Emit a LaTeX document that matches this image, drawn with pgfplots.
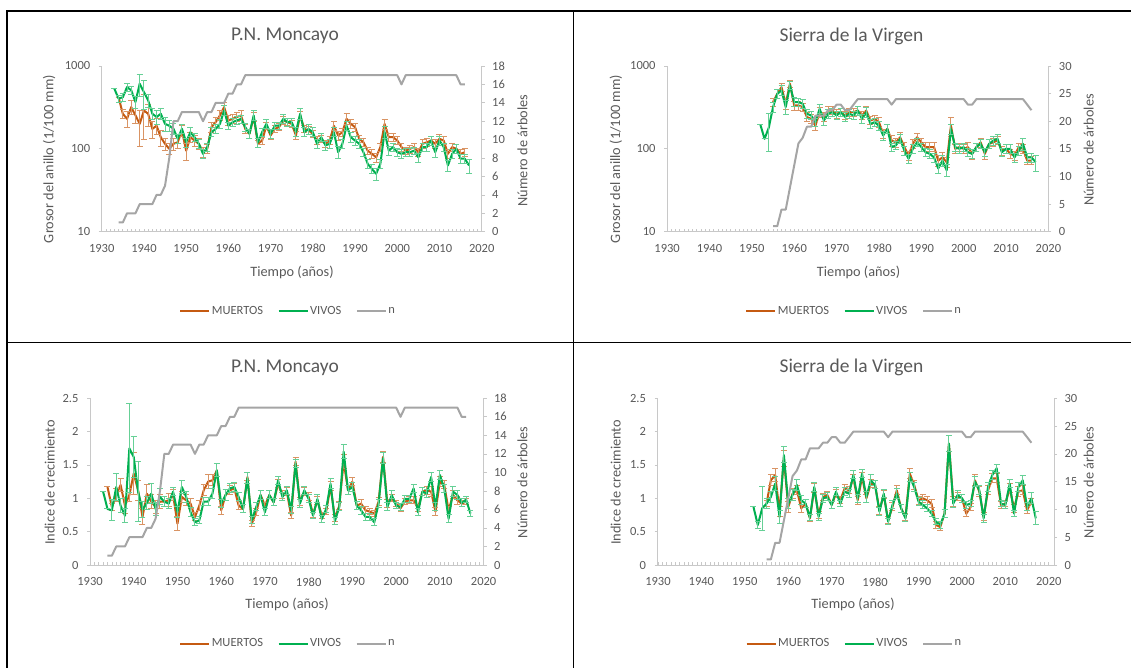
\documentclass[border=0pt]{standalone}
\usepackage{fontspec}
\setmainfont{Carlito}
\usepackage{pgfplots}
\usepackage{pgfplotstable}
\pgfplotsset{compat=1.18}
\definecolor{mort}{HTML}{C55A11}
\definecolor{vivo}{HTML}{00B050}
\definecolor{ngrey}{HTML}{A5A5A5}
\definecolor{axgrey}{HTML}{C8C8C8}
\definecolor{txt}{HTML}{595959}

% Panel 1: P.N. Moncayo, ring width
\pgfplotstableread{
x y e
1934 420 0
1935 265 30
1936 230 50
1937 319 60
1938 253 50
1939 200 92
1940 290 160
1941 265 80
1942 174 40
1943 190 40
1944 138 30
1945 115 20
1946 100 15
1947 115 20
1948 120 20
1949 167 25
1950 95 22
1951 138 20
1952 126 18
1953 115 18
1954 91 12
1955 100 12
1956 183 25
1957 210 30
1958 253 35
1959 319 40
1960 220 30
1961 230 30
1962 242 30
1963 253 35
1964 174 20
1965 152 20
1966 242 30
1967 115 10
1968 126 12
1969 190 20
1970 145 15
1971 174 18
1972 183 18
1973 220 25
1974 210 20
1975 200 20
1976 145 15
1977 253 30
1978 174 18
1979 167 18
1980 152 16
1981 126 14
1982 132 14
1983 115 12
1984 126 14
1985 190 25
1986 145 18
1987 159 18
1988 230 35
1989 200 25
1990 183 20
1991 132 14
1992 120 14
1993 95 10
1994 87 10
1995 79 10
1996 105 12
1997 200 28
1998 138 15
1999 138 15
2000 126 14
2001 105 12
2002 95 10
2003 100 11
2004 105 11
2005 91 10
2006 115 13
2007 120 14
2008 126 15
2009 115 13
2010 132 15
2011 126 14
2012 87 10
2013 105 12
2014 100 12
2015 87 10
2016 91 10
}\Mone
\pgfplotstableread{
x y e
1933 532 0
1934 403 40
1935 420 45
1936 557 60
1937 508 60
1938 367 60
1939 611 180
1940 484 186
1941 385 70
1942 265 40
1943 242 45
1944 265 40
1945 200 40
1946 190 30
1947 175 25
1948 132 15
1949 175 20
1950 120 15
1951 159 20
1952 138 15
1953 115 15
1954 87 10
1955 105 12
1956 159 20
1957 174 20
1958 200 25
1959 290 40
1960 190 20
1961 210 25
1962 220 25
1963 230 25
1964 183 20
1965 152 18
1966 253 35
1967 120 15
1968 159 18
1969 200 25
1970 152 18
1971 190 20
1972 190 20
1973 230 30
1974 210 25
1975 210 25
1976 159 20
1977 265 40
1978 159 20
1979 174 25
1980 159 20
1981 115 15
1982 138 15
1983 110 14
1984 115 15
1985 159 20
1986 91 15
1987 115 15
1988 190 25
1989 138 18
1990 126 16
1991 115 14
1992 91 10
1993 66 8
1994 57 7
1995 50 8
1996 66 8
1997 160 25
1998 95 12
1999 105 12
2000 91 10
2001 87 10
2002 91 10
2003 91 10
2004 95 10
2005 79 10
2006 105 12
2007 105 12
2008 126 15
2009 91 12
2010 126 15
2011 105 12
2012 63 10
2013 87 10
2014 100 12
2015 76 9
2016 76 9
2017 63 12
}\Vone
\pgfplotstableread{
x n
1934 1
1935 1
1936 2
1937 2
1938 2
1939 3
1940 3
1941 3
1942 3
1943 4
1944 4
1945 5
1946 8
1947 12
1948 12
1949 13
1950 13
1951 13
1952 13
1953 13
1954 12
1955 13
1956 13
1957 14
1958 14
1959 14
1960 15
1961 15
1962 16
1963 16
1964 17
1965 17
1970 17
1980 17
1990 17
2000 17
2001 16
2002 17
2010 17
2014 17
2015 16
2016 16
}\Nmon

% Panel 2: Sierra de la Virgen, ring width
\pgfplotstableread{
x y e
1955 367 40
1956 460 60
1957 557 60
1958 350 50
1959 611 60
1960 334 40
1961 334 40
1962 319 35
1963 242 30
1964 230 30
1965 190 25
1966 277 35
1967 242 30
1968 290 30
1969 290 30
1970 265 30
1971 277 30
1972 253 30
1973 277 30
1974 277 30
1975 290 35
1976 253 30
1977 290 35
1978 220 25
1979 230 25
1980 210 30
1981 152 20
1982 174 20
1983 126 18
1984 120 15
1985 138 18
1986 105 13
1987 83 10
1988 115 14
1989 138 16
1990 120 14
1991 105 13
1992 105 13
1993 105 13
1994 72 10
1995 79 12
1996 69 10
1997 190 50
1998 100 12
1999 105 12
2000 100 12
2001 105 13
2002 87 12
2003 105 12
2004 120 15
2005 87 12
2006 115 14
2007 120 14
2008 126 14
2009 95 12
2010 100 12
2011 87 10
2012 83 10
2013 105 12
2014 100 12
2015 72 8
2016 72 8
}\Mtwo
\pgfplotstableread{
x y e
1952 197 0
1953 132 0
1954 180 88
1955 319 45
1956 460 60
1957 508 70
1958 319 60
1959 584 70
1960 367 45
1961 367 40
1962 350 40
1963 265 35
1964 253 30
1965 210 25
1966 304 40
1967 220 30
1968 265 30
1969 277 30
1970 253 30
1971 277 30
1972 242 30
1973 265 30
1974 253 30
1975 290 35
1976 230 30
1977 277 35
1978 200 25
1979 210 25
1980 190 22
1981 145 18
1982 174 20
1983 105 12
1984 110 13
1985 132 15
1986 95 11
1987 76 9
1988 100 12
1989 120 14
1990 105 12
1991 91 11
1992 87 10
1993 79 10
1994 58 8
1995 72 10
1996 55 9
1997 174 25
1998 105 12
1999 100 12
2000 105 12
2001 91 11
2002 87 10
2003 105 12
2004 115 13
2005 91 11
2006 115 13
2007 126 15
2008 132 15
2009 91 11
2010 100 12
2011 100 12
2012 79 10
2013 95 11
2014 115 20
2015 79 10
2016 79 10
2017 69 15
}\Vtwo
\pgfplotstableread{
x n
1955 1
1956 1
1957 4
1958 4
1959 8
1960 12
1961 16
1962 17
1963 19
1964 19
1965 21
1966 21
1967 21
1968 22
1969 22
1970 23
1971 23
1972 22
1973 22
1974 23
1975 24
1982 24
1983 23
1984 24
2000 24
2001 23
2002 23
2003 24
2014 24
2015 23
2016 22
}\Nsie

% Panel 3: P.N. Moncayo, growth index
\pgfplotstableread{
x y e
1934 1.17 0
1935 0.87 0.05
1936 1.05 0.1
1937 1.20 0.1
1938 0.89 0.12
1939 1.05 0.1
1940 1.37 0.32
1941 1.12 0.15
1942 0.72 0.12
1943 1.07 0.14
1944 0.95 0.1
1945 0.87 0.1
1946 0.95 0.1
1947 0.95 0.08
1948 0.97 0.1
1949 1.05 0.08
1950 0.62 0.1
1951 1.02 0.08
1952 0.97 0.08
1953 0.92 0.07
1954 0.72 0.06
1955 0.89 0.07
1956 1.12 0.08
1957 1.25 0.1
1958 1.27 0.08
1959 1.42 0.1
1960 0.82 0.06
1961 1.05 0.08
1962 1.12 0.07
1963 1.15 0.07
1964 0.89 0.06
1965 0.84 0.06
1966 1.32 0.06
1967 0.62 0.04
1968 0.79 0.05
1969 1.05 0.07
1970 0.89 0.05
1971 1.05 0.06
1972 0.94 0.05
1973 1.22 0.06
1974 1.05 0.06
1975 1.10 0.06
1976 0.74 0.05
1977 1.55 0.06
1978 0.95 0.06
1979 1.10 0.06
1980 1.02 0.06
1981 0.76 0.05
1982 0.97 0.06
1983 0.74 0.05
1984 0.80 0.05
1985 1.18 0.07
1986 0.70 0.05
1987 0.89 0.06
1988 1.55 0.1
1989 1.12 0.07
1990 1.25 0.06
1991 0.89 0.06
1992 0.92 0.06
1993 0.82 0.05
1994 0.80 0.05
1995 0.77 0.05
1996 0.95 0.06
1997 1.62 0.08
1998 0.92 0.06
1999 1.00 0.05
2000 0.92 0.05
2001 0.85 0.05
2002 0.95 0.05
2003 0.97 0.05
2004 0.97 0.05
2005 0.85 0.05
2006 1.10 0.06
2007 1.12 0.06
2008 1.10 0.07
2009 0.80 0.06
2010 1.25 0.07
2011 1.20 0.06
2012 0.82 0.06
2013 1.05 0.06
2014 0.97 0.06
2015 0.92 0.05
2016 0.95 0.05
}\Mthree
\pgfplotstableread{
x y e
1933 1.10 0
1934 0.84 0
1935 0.82 0.16
1936 1.17 0.2
1937 0.89 0.1
1938 0.74 0.1
1939 1.75 0.67
1940 1.62 0.31
1941 1.10 0.45
1942 0.83 0.12
1943 0.93 0.1
1944 1.07 0.15
1945 0.84 0.1
1946 1.02 0.12
1947 0.95 0.08
1948 0.92 0.08
1949 1.10 0.06
1950 0.79 0.08
1951 1.17 0.1
1952 1.02 0.08
1953 0.79 0.07
1954 0.64 0.05
1955 0.67 0.05
1956 0.95 0.06
1957 0.95 0.06
1958 1.07 0.07
1959 1.42 0.1
1960 0.92 0.06
1961 1.05 0.08
1962 1.15 0.07
1963 1.17 0.07
1964 1.02 0.06
1965 0.84 0.06
1966 1.30 0.08
1967 0.67 0.05
1968 0.87 0.06
1969 1.05 0.07
1970 0.79 0.05
1971 1.05 0.06
1972 0.94 0.05
1973 1.27 0.06
1974 1.02 0.06
1975 1.12 0.06
1976 0.82 0.05
1977 1.52 0.06
1978 0.92 0.06
1979 1.12 0.06
1980 0.99 0.06
1981 0.74 0.05
1982 0.99 0.06
1983 0.69 0.05
1984 0.84 0.05
1985 1.22 0.07
1986 0.66 0.05
1987 0.87 0.06
1988 1.70 0.1
1989 1.12 0.07
1990 1.17 0.07
1991 0.89 0.06
1992 0.82 0.06
1993 0.72 0.05
1994 0.72 0.05
1995 0.64 0.05
1996 0.92 0.06
1997 1.60 0.08
1998 0.87 0.06
1999 1.05 0.06
2000 0.89 0.05
2001 0.87 0.05
2002 0.99 0.05
2003 0.99 0.05
2004 1.15 0.06
2005 0.79 0.05
2006 1.10 0.06
2007 1.07 0.06
2008 1.32 0.07
2009 0.87 0.06
2010 1.35 0.07
2011 1.15 0.06
2012 0.69 0.06
2013 1.10 0.07
2014 1.05 0.07
2015 0.93 0.06
2016 0.98 0.05
2017 0.77 0.05
}\Vthree

% Panel 4: Sierra de la Virgen, growth index
\pgfplotstableread{
x y e
1955 0.92 0.05
1956 1.27 0.08
1957 1.35 0.1
1958 0.80 0.08
1959 1.60 0.12
1960 0.87 0.08
1961 1.07 0.08
1962 1.12 0.07
1963 0.85 0.06
1964 0.92 0.06
1965 0.70 0.05
1966 1.15 0.07
1967 0.75 0.05
1968 1.02 0.05
1969 1.05 0.05
1970 0.90 0.05
1971 1.07 0.06
1972 0.97 0.05
1973 1.15 0.05
1974 1.12 0.05
1975 1.30 0.06
1976 0.97 0.06
1977 1.32 0.07
1978 1.00 0.06
1979 1.22 0.06
1980 1.20 0.06
1981 0.82 0.06
1982 1.05 0.06
1983 0.67 0.05
1984 0.87 0.06
1985 1.12 0.07
1986 0.85 0.06
1987 0.72 0.05
1988 1.37 0.08
1989 1.20 0.07
1990 0.97 0.06
1991 1.00 0.06
1992 0.97 0.06
1993 0.92 0.06
1994 0.60 0.05
1995 0.57 0.06
1996 0.77 0.06
1997 1.82 0.12
1998 0.95 0.08
1999 1.02 0.06
2000 1.00 0.06
2001 0.77 0.05
2002 0.87 0.05
2003 1.27 0.08
2004 1.10 0.07
2005 0.72 0.06
2006 1.12 0.07
2007 1.30 0.07
2008 1.30 0.07
2009 0.90 0.05
2010 0.92 0.05
2011 1.15 0.07
2012 0.85 0.06
2013 1.10 0.07
2014 1.12 0.07
2015 0.82 0.05
2016 0.95 0.05
}\Mfour
\pgfplotstableread{
x y e
1952 0.87 0
1953 0.60 0.05
1954 0.85 0.33
1955 0.92 0.08
1956 1.02 0.08
1957 1.22 0.1
1958 0.72 0.1
1959 1.65 0.12
1960 0.92 0.08
1961 1.05 0.08
1962 1.20 0.08
1963 0.97 0.07
1964 0.92 0.06
1965 0.71 0.05
1966 1.17 0.07
1967 0.72 0.05
1968 1.00 0.06
1969 1.02 0.06
1970 0.90 0.05
1971 1.10 0.06
1972 0.92 0.05
1973 1.10 0.06
1974 1.07 0.06
1975 1.35 0.06
1976 1.00 0.06
1977 1.37 0.06
1978 1.02 0.08
1979 1.27 0.08
1980 1.20 0.06
1981 0.80 0.06
1982 1.07 0.06
1983 0.65 0.05
1984 0.90 0.06
1985 1.07 0.07
1986 0.85 0.06
1987 0.70 0.05
1988 1.32 0.07
1989 1.17 0.07
1990 0.95 0.06
1991 0.90 0.06
1992 0.85 0.05
1993 0.77 0.05
1994 0.65 0.05
1995 0.60 0.05
1996 0.77 0.06
1997 1.82 0.12
1998 0.92 0.06
1999 1.05 0.06
2000 1.00 0.06
2001 0.90 0.05
2002 0.92 0.05
2003 1.25 0.07
2004 1.12 0.07
2005 0.70 0.06
2006 1.17 0.07
2007 1.35 0.07
2008 1.45 0.06
2009 0.92 0.05
2010 0.90 0.05
2011 1.22 0.06
2012 0.77 0.05
2013 1.17 0.07
2014 1.27 0.07
2015 0.87 0.06
2016 1.00 0.08
2017 0.70 0.1
}\Vfour

\newcommand{\labf}{\fontsize{14.3}{16}\selectfont}
\newcommand{\ttlf}{\fontsize{19.5}{22}\selectfont}
\newcommand{\tickf}{\fontsize{12.5}{14}\selectfont}

\pgfplotsset{
  base/.style={scale only axis, anchor=south west,
    tick align=inside, major tick length=3pt, minor tick length=2.5pt,
    tick style={draw=axgrey, line width=0.7pt},
    axis line style={draw=axgrey, line width=0.9pt},
    tick label style={font=\tickf, text=txt},
    /pgf/number format/assume math mode=true,
    /pgf/number format/1000 sep={},
  },
  prim/.style={base, axis x line*=bottom, axis y line*=left,
    xtick={1930,1940,...,2020}, minor x tick num=9,
    xticklabel style={yshift=-9pt},
    yticklabel style={xshift=-8pt},
    ytick style={xshift=-3pt},
  },
  sec/.style={base, axis x line=none, axis y line*=right,
    yticklabel style={xshift=7pt}, ytick style={xshift=3pt},
    legend columns=3,
    legend style={draw=none, fill=none, anchor=center,
      font=\tickf, text=txt,
      nodes={inner sep=1.5pt},
      /tikz/every even column/.append style={column sep=13pt}},
    legend image code/.code={\draw[##1] (0pt,0pt) -- (29pt,0pt);},
  },
  mplot/.style={mort, line width=2pt, line join=round,
    error bars/.cd, y dir=both, y explicit,
    error bar style={line width=1pt, mort!65!white},
    error mark options={rotate=90, line width=1pt, mark size=3pt, mort!65!white}},
  vplot/.style={vivo, line width=2pt, line join=round,
    error bars/.cd, y dir=both, y explicit,
    error bar style={line width=1pt, vivo!60!white},
    error mark options={rotate=90, line width=1pt, mark size=3pt, vivo!60!white}},
  nplot/.style={ngrey, line width=2pt, line join=round},
}

\begin{document}
\begin{tikzpicture}
\useasboundingbox (0pt,0pt) rectangle (1131pt,668pt);
% table borders
\draw[black, line width=1.3pt] (7pt,0pt) -- (7pt,657pt) -- (1131pt,657pt);
\draw[black, line width=1.3pt] (573.6pt,0pt) -- (573.6pt,657pt);
\draw[black, line width=1.3pt] (7pt,325.3pt) -- (1131pt,325.3pt);

% ---------- Panel 1 ----------
\begin{axis}[prim, at={(101.7pt,436.3pt)}, width=380pt, height=165.7pt,
  xmin=1930, xmax=2020, ymode=log, ymin=10, ymax=1000,
  ytick={10,100,1000}, yticklabels={10,100,1000}, yminorticks=false]
\addplot[mplot] table[x=x, y=y, y error=e] {\Mone};
\addplot[vplot] table[x=x, y=y, y error=e] {\Vone};
\end{axis}
\begin{axis}[sec, at={(101.7pt,436.3pt)}, width=380pt, height=165.7pt,
  xmin=1930, xmax=2020, ymin=0, ymax=18, ytick={0,2,...,18},
  legend style={at={(axis description cs:0.49,-0.479)}}]
\addlegendimage{mort, line width=2pt}\addlegendentry{MUERTOS}
\addlegendimage{vivo, line width=2pt}\addlegendentry{VIVOS}
\addplot[nplot] table[x=x, y=n] {\Nmon};\addlegendentry{n}
\end{axis}
\node[font=\ttlf, text=txt] at (285pt,632pt) {P.N. Moncayo};
\node[font=\labf, text=txt, rotate=90] at (49.1pt,509pt) {Grosor del anillo (1/100 mm)};
\node[font=\labf, text=txt, rotate=90] at (522.5pt,517.5pt) {Número de árboles};
\node[font=\labf, text=txt] at (292pt,396pt) {Tiempo (años)};

% ---------- Panel 2 ----------
\begin{axis}[prim, at={(667.1pt,436.3pt)}, width=381.3pt, height=165.7pt,
  xmin=1930, xmax=2020, ymode=log, ymin=10, ymax=1000,
  ytick={10,100,1000}, yticklabels={10,100,1000}, yminorticks=false]
\addplot[mplot] table[x=x, y=y, y error=e] {\Mtwo};
\addplot[vplot] table[x=x, y=y, y error=e] {\Vtwo};
\end{axis}
\begin{axis}[sec, at={(667.1pt,436.3pt)}, width=381.3pt, height=165.7pt,
  xmin=1930, xmax=2020, ymin=0, ymax=30, ytick={0,5,...,30},
  legend style={at={(axis description cs:0.49,-0.479)}}]
\addlegendimage{mort, line width=2pt}\addlegendentry{MUERTOS}
\addlegendimage{vivo, line width=2pt}\addlegendentry{VIVOS}
\addplot[nplot] table[x=x, y=n] {\Nsie};\addlegendentry{n}
\end{axis}
\node[font=\ttlf, text=txt] at (851.4pt,632pt) {Sierra de la Virgen};
\node[font=\labf, text=txt, rotate=90] at (615.8pt,509pt) {Grosor del anillo (1/100 mm)};
\node[font=\labf, text=txt, rotate=90] at (1088.8pt,518pt) {Número de árboles};
\node[font=\labf, text=txt] at (858.5pt,396pt) {Tiempo (años)};

% ---------- Panel 3 ----------
\begin{axis}[prim, at={(90pt,103pt)}, width=393.6pt, height=166.7pt,
  xmin=1930, xmax=2020, ymin=0, ymax=2.5, ytick={0,0.5,...,2.5}]
\addplot[mplot] table[x=x, y=y, y error=e] {\Mthree};
\addplot[vplot] table[x=x, y=y, y error=e] {\Vthree};
\end{axis}
\begin{axis}[sec, at={(90pt,103pt)}, width=393.6pt, height=166.7pt,
  xmin=1930, xmax=2020, ymin=0, ymax=18, ytick={0,2,...,18},
  legend style={at={(axis description cs:0.5025,-0.472)}}]
\addlegendimage{mort, line width=2pt}\addlegendentry{MUERTOS}
\addlegendimage{vivo, line width=2pt}\addlegendentry{VIVOS}
\addplot[nplot] table[x=x, y=n] {\Nmon};\addlegendentry{n}
\end{axis}
\node[font=\ttlf, text=txt] at (285pt,300.3pt) {P.N. Moncayo};
\node[font=\labf, text=txt, rotate=90] at (49.8pt,185.7pt) {Indice de crecimiento};
\node[font=\labf, text=txt, rotate=90] at (522.5pt,185.7pt) {Número de árboles};
\node[font=\labf, text=txt] at (287pt,64pt) {Tiempo (años)};

% ---------- Panel 4 ----------
\begin{axis}[prim, at={(657.5pt,103pt)}, width=396.5pt, height=166.7pt,
  xmin=1929.9, xmax=2021.2, ymin=0, ymax=2.5, ytick={0,0.5,...,2.5}]
\addplot[mplot] table[x=x, y=y, y error=e] {\Mfour};
\addplot[vplot] table[x=x, y=y, y error=e] {\Vfour};
\end{axis}
\begin{axis}[sec, at={(657.5pt,103pt)}, width=396.5pt, height=166.7pt,
  xmin=1929.9, xmax=2021.2, ymin=0, ymax=30, ytick={0,5,...,30},
  legend style={at={(axis description cs:0.496,-0.472)}}]
\addlegendimage{mort, line width=2pt}\addlegendentry{MUERTOS}
\addlegendimage{vivo, line width=2pt}\addlegendentry{VIVOS}
\addplot[nplot] table[x=x, y=n] {\Nsie};\addlegendentry{n}
\end{axis}
\node[font=\ttlf, text=txt] at (851.4pt,300.3pt) {Sierra de la Virgen};
\node[font=\labf, text=txt, rotate=90] at (615.8pt,185.7pt) {Indice de crecimiento};
\node[font=\labf, text=txt, rotate=90] at (1088.8pt,185.7pt) {Número de árboles};
\node[font=\labf, text=txt] at (853pt,64pt) {Tiempo (años)};
\end{tikzpicture}
\end{document}
